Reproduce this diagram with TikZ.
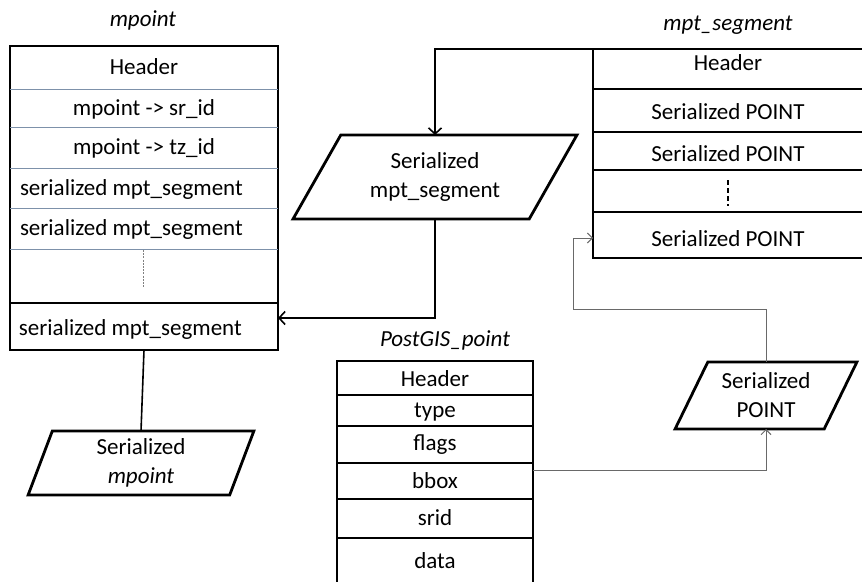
\documentclass[tikz,border=0pt]{standalone}
\usepackage{fontspec}
\setmainfont{Carlito}
\usetikzlibrary{arrows.meta,shapes.geometric,calc}
\definecolor{rowgray}{RGB}{125,145,170}
\definecolor{linegray}{RGB}{105,105,105}
\begin{document}
\begin{tikzpicture}[x=1pt,y=-1pt,
  txt/.style={font=\fontsize{23}{29}\selectfont, inner sep=0pt, outer sep=0pt, align=center},
  ttl/.style={txt, font=\fontsize{23}{29}\selectfont\itshape},
  frame/.style={draw, line width=2.8pt, rectangle, inner sep=0pt, outer sep=0pt},
  thinrow/.style={draw=rowgray, line width=1pt},
  row/.style={draw=black, line width=1.6pt},
  para/.style={draw, line width=2.8pt, trapezium, trapezium stretches=true, inner sep=0pt, outer sep=0pt, align=center, font=\fontsize{23}{29}\selectfont},
  bigarrow/.style={line width=1.6pt, -{Straight Barb[length=6pt,width=13pt]}},
  thinarrow/.style={draw=linegray, line width=1pt, -{Straight Barb[length=5pt,width=10pt]}},
]
\useasboundingbox (0,0) rectangle (862,581);
\clip (0,0) rectangle (862,581);
\fill[white] (0,0) rectangle (862,581);

% ---------- mpoint ----------
\node[ttl] (tmpoint) at (143,20) {mpoint};
\node[frame, minimum width=268pt, minimum height=304pt] (mpoint) at (144,198) {};
\foreach \yy in {89,127,168,208,249} \draw[thinrow] (10,\yy) -- (278,\yy);
\draw[row] (10,303) -- (278,303);
\node[txt] (mph) at (144,67) {Header};
\node[txt] (mpsr) at (144,109) {mpoint -> sr\_id};
\node[txt] (mptz) at (144,148) {mpoint -> tz\_id};
\node[txt, anchor=west] (mps1) at (20,189) {serialized mpt\_segment};
\node[txt, anchor=west] (mps2) at (20,229) {serialized mpt\_segment};
\node[txt, anchor=west] (mps3) at (19,329) {serialized mpt\_segment};
\draw[draw=gray, line width=0.8pt, dash pattern=on 2pt off 1.2pt] (143,250) -- (143,287);

% ---------- Serialized mpoint ----------
\node[para, trapezium left angle=76, trapezium right angle=104,
      minimum width=226pt, minimum height=64pt] (mpp) at (141,463)
      {Serialized\\\textit{mpoint}};
\draw[line width=1.6pt] (mpoint.south) -- (mpp.north);

% ---------- mpt_segment ----------
\node[ttl] (tmseg) at (728,25) {mpt\_segment};
\node[frame, minimum width=280pt, minimum height=209pt] (mseg) at (733,153.5) {};
\foreach \yy in {89,132,170,212} \draw[row] (593,\yy) -- (880,\yy);
\node[txt] (msh) at (728,63) {Header};
\node[txt] (msp1) at (728,112) {Serialized POINT};
\node[txt] (msp2) at (728,154) {Serialized POINT};
\node[txt] (msp3) at (728,239) {Serialized POINT};
\draw[line width=1.6pt, dash pattern=on 5pt off 3pt] (728,180) -- (728,206);

% ---------- Serialized mpt_segment ----------
\node[para, trapezium left angle=56, trapezium right angle=124,
      minimum width=284pt, minimum height=84pt] (segp) at (435,177)
      {Serialized\\mpt\_segment};
\draw[bigarrow] (mseg.north west) -| (segp.north);
\draw[bigarrow] (segp.south) |- ([yshift=32pt]mpoint.south east);

% ---------- PostGIS_point ----------
\node[ttl] (tpg) at (445,340) {PostGIS\_point};
\node[frame, minimum width=196pt, minimum height=239pt] (pg) at (435,480.5) {};
\foreach \yy in {395,426,463,499,538} \draw[row] (337,\yy) -- (533,\yy);
\node[txt] (pgh) at (435,379) {Header};
\node[txt] (pgt) at (435,412) {type};
\node[txt] (pgf) at (435,445) {flags};
\node[txt] (pgb) at (435,481) {bbox};
\node[txt] (pgs) at (435,518) {srid};
\node[txt] (pgd) at (435,561) {data};

% ---------- Serialized POINT ----------
\node[para, trapezium left angle=61, trapezium right angle=119,
      minimum width=182pt, minimum height=67pt] (ptp) at (766,395.5)
      {Serialized\\POINT};
\coordinate (bend) at (573,309);
\draw[thinarrow] ([yshift=-109pt]pg.north east) -| (ptp.south);
\draw[thinarrow] (ptp.north) |- (bend) |- ([yshift=20pt]mseg.south west);
\end{tikzpicture}
\end{document}
